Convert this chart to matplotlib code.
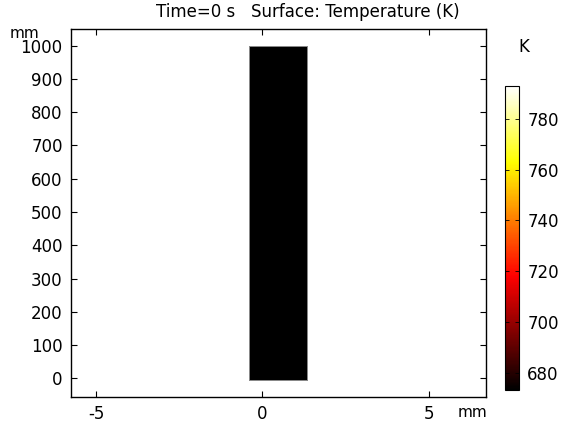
import numpy as np
import matplotlib

matplotlib.use('Agg')
import matplotlib.pyplot as plt
from matplotlib.colors import Normalize, LinearSegmentedColormap

# geometry (mm) and temperature field at t = 0
x_edges = [-0.4, 1.35]
y_edges = [-5, 1000]
temperature = [[673.15]]
t_min, t_max = 673.15, 793.15

x_ticks = [-5, 0, 5]
y_ticks = [0, 100, 200, 300, 400, 500, 600, 700, 800, 900, 1000]
cbar_ticks = [680, 700, 720, 740, 760, 780]

plt.rcParams['font.family'] = 'DejaVu Sans'
plt.rcParams['axes.unicode_minus'] = False

# black -> red -> yellow -> white, starting at pure black
heat = LinearSegmentedColormap.from_list(
    'heat', [(0.0, '#000000'), (0.375, '#ff0000'), (0.75, '#ffff00'), (1.0, '#ffffff')])

fig = plt.figure(figsize=(5.62, 4.24), dpi=100)
ax = fig.add_axes([0.1263, 0.0637, 0.7384, 0.868])
norm = Normalize(vmin=t_min, vmax=t_max)
mesh = ax.pcolormesh(x_edges, y_edges, np.array(temperature), cmap=heat, norm=norm,
                     edgecolor='#888888', linewidth=0.6)

ax.set_xlim(-5.75, 6.72)
ax.set_ylim(-56, 1050)
ax.set_xticks(x_ticks)
ax.set_yticks(y_ticks)
ax.tick_params(direction='in', top=True, right=True, length=4, labelsize=12, width=0.8, pad=6)
for s in ax.spines.values():
    s.set_linewidth(1.0)
# title sits a bit right of the axes centre in the reference
fig.text(0.548, 0.971, 'Time=0 s   Surface: Temperature (K)', fontsize=12, ha='center', va='center')
fig.text(0.043, 0.922, 'mm', fontsize=11, ha='center', va='center')
fig.text(0.840, 0.027, 'mm', fontsize=11, ha='center', va='center')

cax = fig.add_axes([0.8986, 0.0802, 0.0249, 0.7177])
cb = fig.colorbar(mesh, cax=cax)
cb.set_ticks(cbar_ticks)
cax.tick_params(direction='in', left=True, right=True, length=3, labelsize=12, width=0.6, pad=6)
cb.outline.set_linewidth(0.8)
fig.text(0.932, 0.889, 'K', fontsize=12, ha='center', va='center')

fig.savefig('out.png', dpi=100)
